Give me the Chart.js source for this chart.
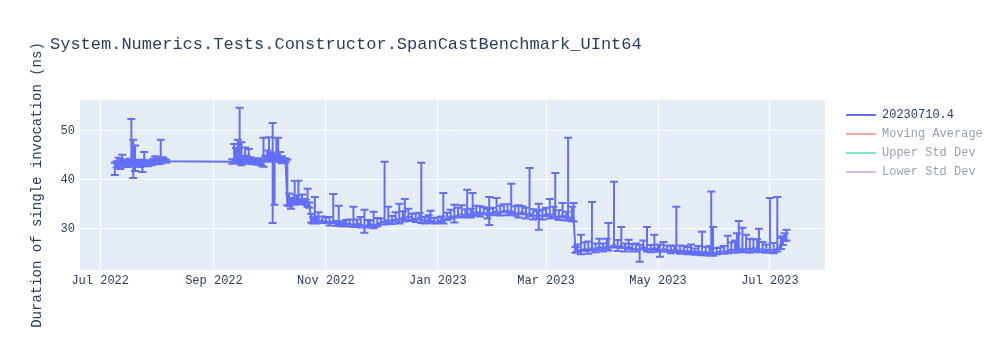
<!DOCTYPE html>
<html>
<head>
<meta charset="utf-8">
<script src="https://cdn.jsdelivr.net/npm/chart.js@4.4.1/dist/chart.umd.min.js"></script>
<style>
  body { margin: 0; background: #fff; }
  #wrap { position: relative; width: 1000px; height: 350px; font-family: 'Courier New', 'Liberation Mono', monospace; color: #2a3f5f; }
  #title { position: absolute; left: 50px; top: 35px; font-size: 17px; line-height: 20px; white-space: nowrap; }
  .item { position: absolute; left: 846px; font-size: 12px; line-height: 16px; white-space: nowrap; }
  .item span { display: inline-block; width: 30px; height: 2px; vertical-align: middle; margin-right: 6px; }
  .off { opacity: 0.5; }
</style>
</head>
<body>
<div id="wrap">
  <canvas id="chart" width="1000" height="350"></canvas>
  <div id="title"></div>
  <div id="legend"></div>
</div>
<script>
const chartTitle = 'System.Numerics.Tests.Constructor.SpanCastBenchmark_UInt64';
const yTitle = 'Duration of single invocation (ns)';

// one line per month, same order in every array
const dates = [
  '2022-07-09','2022-07-10','2022-07-11','2022-07-12','2022-07-13','2022-07-14','2022-07-15','2022-07-16','2022-07-17','2022-07-18','2022-07-19','2022-07-20','2022-07-21','2022-07-22','2022-07-23','2022-07-24','2022-07-25','2022-07-26','2022-07-27','2022-07-28','2022-07-29','2022-07-30','2022-07-31',
  '2022-08-01','2022-08-02','2022-08-03','2022-08-04','2022-08-05','2022-08-06',
  '2022-09-11','2022-09-12','2022-09-13','2022-09-14','2022-09-15','2022-09-16','2022-09-17','2022-09-18','2022-09-19','2022-09-20','2022-09-21','2022-09-22','2022-09-23','2022-09-24','2022-09-25','2022-09-26','2022-09-27','2022-09-28','2022-09-29','2022-09-30',
  '2022-10-01','2022-10-02','2022-10-03','2022-10-04','2022-10-05','2022-10-06','2022-10-07','2022-10-08','2022-10-09','2022-10-10','2022-10-11','2022-10-12','2022-10-13','2022-10-14','2022-10-15','2022-10-16','2022-10-17','2022-10-18','2022-10-19','2022-10-20','2022-10-21','2022-10-22','2022-10-23','2022-10-24','2022-10-25','2022-10-26','2022-10-27','2022-10-28','2022-10-30',
  '2022-11-01','2022-11-03','2022-11-05','2022-11-07','2022-11-08','2022-11-10','2022-11-12','2022-11-14','2022-11-16','2022-11-18','2022-11-20','2022-11-22','2022-11-24','2022-11-25','2022-11-27','2022-11-29',
  '2022-12-01','2022-12-03','2022-12-05','2022-12-07','2022-12-09','2022-12-11','2022-12-13','2022-12-14','2022-12-16','2022-12-18','2022-12-20','2022-12-22','2022-12-23','2022-12-25','2022-12-27','2022-12-28','2022-12-30',
  '2023-01-01','2023-01-03','2023-01-04','2023-01-06','2023-01-08','2023-01-10','2023-01-12','2023-01-14','2023-01-16','2023-01-17','2023-01-19','2023-01-20','2023-01-22','2023-01-24','2023-01-26','2023-01-28','2023-01-29','2023-01-31',
  '2023-02-02','2023-02-04','2023-02-06','2023-02-08','2023-02-10','2023-02-12','2023-02-14','2023-02-16','2023-02-18','2023-02-20','2023-02-22','2023-02-24','2023-02-25','2023-02-27',
  '2023-03-01','2023-03-03','2023-03-05','2023-03-06','2023-03-08','2023-03-10','2023-03-12','2023-03-13','2023-03-15','2023-03-16','2023-03-17','2023-03-18','2023-03-20','2023-03-22','2023-03-24','2023-03-26','2023-03-28','2023-03-30',
  '2023-04-01','2023-04-03','2023-04-04','2023-04-07','2023-04-09','2023-04-11','2023-04-13','2023-04-15','2023-04-17','2023-04-19','2023-04-21','2023-04-23','2023-04-25','2023-04-27','2023-04-29',
  '2023-05-01','2023-05-02','2023-05-04','2023-05-06','2023-05-08','2023-05-10','2023-05-11','2023-05-13','2023-05-15','2023-05-17','2023-05-19','2023-05-21','2023-05-23','2023-05-25','2023-05-27','2023-05-29','2023-05-30','2023-05-31',
  '2023-06-02','2023-06-04','2023-06-06','2023-06-08','2023-06-10','2023-06-12','2023-06-13','2023-06-14','2023-06-16','2023-06-18','2023-06-20','2023-06-22','2023-06-24','2023-06-25','2023-06-27','2023-06-29',
  '2023-07-01','2023-07-03','2023-07-05','2023-07-07','2023-07-08','2023-07-09','2023-07-10'
];
const durations = [
  42.9,43.0,43.2,42.8,43.3,43.1,43.5,43.2,43.4,43.5,43.3,43.0,43.4,43.2,43.6,43.3,43.5,43.4,43.2,43.5,43.3,43.7,43.8,
  43.6,43.9,43.7,44.0,43.9,43.8,
  43.7,44.0,43.8,44.1,44.2,43.9,44.1,44.0,43.8,43.9,44.0,43.7,43.8,43.9,43.8,43.6,43.8,44.0,44.2,44.5,
  44.3,44.6,44.1,44.4,44.6,44.3,44.5,44.2,43.9,44.0,35.4,35.2,34.9,35.5,35.3,35.8,35.6,35.4,35.9,35.5,35.2,35.0,34.8,31.8,31.5,31.9,31.6,31.8,31.5,
  31.6,31.2,31.6,31.0,31.3,30.9,31.2,31.0,30.8,31.1,30.9,30.6,30.8,31.0,30.7,31.0,
  31.3,31.5,31.8,31.6,32.0,31.8,32.4,32.1,32.6,32.2,31.9,32.3,31.8,31.6,31.9,31.7,31.5,
  31.4,31.8,31.6,32.2,32.6,32.4,32.8,33.0,32.7,33.1,32.9,33.2,33.5,33.0,33.4,32.8,33.1,33.3,
  33.6,33.2,33.8,33.4,33.7,33.3,33.0,33.5,32.9,33.2,32.8,32.6,32.9,32.5,
  33.1,32.8,33.0,32.6,32.4,32.8,32.3,32.5,32.1,32.3,25.5,25.8,25.4,26.0,25.6,26.2,25.7,26.4,
  25.9,26.5,26.1,26.8,26.2,26.6,26.0,26.4,26.0,25.8,25.9,26.3,26.0,25.7,26.1,
  25.8,25.6,25.9,25.7,25.5,25.8,25.7,25.4,25.6,25.3,25.5,25.2,25.4,25.1,25.3,25.0,25.2,25.0,
  25.2,25.4,25.3,25.5,25.8,25.6,25.9,26.1,25.7,26.0,25.8,26.1,25.9,25.7,25.9,25.6,
  25.8,25.5,26.0,26.4,27.2,27.9,28.0
];
const errUp = [
  0.6,0.8,1.3,1.4,1.8,0.7,0.6,0.5,0.9,8.9,4.9,4.0,0.7,0.6,0.5,0.8,2.2,0.6,0.5,0.4,0.7,0.6,1.0,
  0.8,0.5,4.5,0.6,0.4,0.3,
  0.5,3.3,2.7,4.1,10.5,3.8,0.8,2.6,1.0,2.4,0.6,0.5,0.4,0.5,0.5,0.4,0.6,4.6,0.7,1.5,
  4.4,1.0,7.5,0.8,4.0,4.3,1.2,0.6,0.5,0.4,8.7,2.0,1.0,0.8,4.5,1.0,4.2,0.7,1.1,0.6,0.8,3.2,0.6,1.3,0.8,4.6,0.9,1.6,1.0,
  0.7,1.2,5.5,0.6,3.4,0.5,0.6,0.9,3.7,0.8,1.5,3.3,1.0,0.7,2.8,1.2,
  0.8,12.2,2.7,1.0,1.4,3.3,1.2,4.0,1.5,0.9,1.3,1.0,11.7,0.8,0.9,2.0,0.7,
  0.9,0.7,5.7,1.1,1.3,2.5,1.5,1.8,1.3,4.9,1.2,4.1,1.2,1.6,1.0,1.3,3.4,1.0,
  2.7,1.5,1.2,1.6,5.5,1.3,1.8,1.1,1.4,9.2,1.2,1.0,2.2,1.4,
  1.2,3.3,1.5,8.8,1.4,2.5,1.2,16.1,2.4,3.0,0.8,1.0,3.4,1.2,1.8,9.3,1.3,1.6,
  1.1,1.5,5.1,12.8,1.5,3.8,1.0,1.4,0.9,1.2,0.8,1.3,4.4,1.0,2.7,
  1.0,1.2,1.4,0.9,1.0,0.8,8.8,1.2,0.9,1.0,1.3,0.8,1.1,4.3,1.0,1.5,12.4,5.4,
  0.9,0.8,1.2,3.1,1.4,2.0,3.2,5.5,4.5,2.8,2.2,1.8,2.0,4.3,1.4,1.2,
  10.5,1.6,10.5,1.8,1.3,1.2,1.8
];
const errDown = [
  1.9,0.5,0.4,0.6,0.5,0.4,0.5,0.6,0.4,0.6,2.9,1.2,0.5,0.4,1.0,1.7,0.5,0.4,0.4,0.5,0.3,0.4,0.5,
  0.4,0.3,0.4,0.5,0.3,0.3,
  0.4,0.6,0.4,0.8,0.5,0.9,0.6,0.4,0.5,0.3,0.4,0.5,0.3,0.4,0.7,0.3,0.9,1.3,0.4,0.5,
  0.6,0.5,12.9,9.5,0.5,0.6,0.4,0.8,0.5,0.4,0.6,0.6,0.8,0.5,0.4,0.6,0.5,0.4,0.5,0.4,0.3,0.5,0.5,0.5,0.4,0.6,0.5,0.4,0.3,
  0.4,0.5,0.4,0.4,0.5,0.4,0.3,0.5,0.4,0.5,0.6,1.4,0.5,0.4,0.6,0.5,
  0.4,0.6,0.5,0.6,0.5,0.7,0.5,0.6,0.8,0.6,0.5,0.4,0.6,0.5,0.4,0.5,0.4,
  0.3,0.4,0.5,0.4,0.5,1.1,0.5,0.6,0.4,0.5,0.6,0.5,0.6,0.5,0.4,0.7,2.3,0.5,
  0.6,0.5,0.4,0.6,0.5,0.6,0.7,0.5,0.8,0.6,0.9,0.5,3.1,0.6,
  0.5,0.7,0.6,0.5,0.6,0.5,0.6,0.7,0.5,0.8,0.4,0.5,0.6,0.5,0.7,0.6,0.5,0.7,
  0.5,0.6,0.5,0.6,0.7,0.5,0.6,0.5,0.6,0.4,2.6,0.5,0.6,0.5,0.4,
  0.5,1.3,0.5,0.4,0.5,0.4,0.5,0.5,0.4,0.5,0.4,0.5,0.4,0.5,0.4,0.5,0.4,0.5,
  0.4,0.5,0.4,0.5,0.6,0.5,0.7,0.6,0.5,0.6,0.7,0.5,0.6,0.5,0.6,0.5,
  0.6,0.5,0.6,0.5,0.5,0.4,0.4
];

const xTickDates = ['2022-07-01','2022-09-01','2022-11-01','2023-01-01','2023-03-01','2023-05-01','2023-07-01'];
const xTickLabels = ['Jul 2022','Sep 2022','Nov 2022','Jan 2023','Mar 2023','May 2023','Jul 2023'];
const yTicks = [30, 40, 50];

const legendNames = ['20230710.4', 'Moving Average', 'Upper Std Dev', 'Lower Std Dev'];
const legendColors = ['#636efa', '#ef553b', '#00cc96', '#ab63fa'];
const legendShown = [true, false, false, false];

const FONT = "'Courier New', 'Liberation Mono', monospace";
const TEXT = '#2a3f5f';

document.getElementById('title').textContent = chartTitle;
const legendBox = document.getElementById('legend');
legendNames.forEach((name, i) => {
    const item = document.createElement('div');
    item.className = 'item' + (legendShown[i] ? '' : ' off');
    item.style.top = (107 + i * 19) + 'px';
    const line = document.createElement('span');
    line.style.background = legendColors[i];
    item.appendChild(line);
    item.appendChild(document.createTextNode(name));
    legendBox.appendChild(item);
});

// plot background like plotly
const plotBg = {
    id: 'plotBg',
    beforeDraw(chart) {
        const { ctx, chartArea: a } = chart;
        ctx.save();
        ctx.fillStyle = '#e5ecf6';
        ctx.fillRect(a.left, a.top, a.right - a.left, a.bottom - a.top);
        ctx.restore();
    }
};

// vertical error bars with caps
const errorBars = {
    id: 'errorBars',
    afterDatasetsDraw(chart) {
        const { ctx, scales: { x, y } } = chart;
        ctx.save();
        ctx.strokeStyle = '#636efa';
        ctx.lineWidth = 2;
        ctx.beginPath();
        dates.forEach((d, i) => {
            const px = x.getPixelForValue(Date.parse(d));
            const top = y.getPixelForValue(durations[i] + errUp[i]);
            const bot = y.getPixelForValue(durations[i] - errDown[i]);
            ctx.moveTo(px, top); ctx.lineTo(px, bot);
            ctx.moveTo(px - 4, top); ctx.lineTo(px + 4, top);
            ctx.moveTo(px - 4, bot); ctx.lineTo(px + 4, bot);
        });
        ctx.stroke();
        ctx.restore();
    }
};

new Chart(document.getElementById('chart'), {
    type: 'line',
    data: {
        datasets: [{
            label: legendNames[0],
            data: dates.map((d, i) => ({ x: Date.parse(d), y: durations[i] })),
            borderColor: '#636efa',
            borderWidth: 2,
            pointRadius: 0,
            tension: 0,
        }],
    },
    options: {
        responsive: false,
        devicePixelRatio: 1,
        animation: false,
        layout: { padding: { left: 0, right: 175, top: 100, bottom: 0 } },
        plugins: { legend: { display: false }, tooltip: { enabled: false } },
        scales: {
            x: {
                type: 'linear',
                min: Date.parse('2022-06-20'),
                max: Date.parse('2023-07-31'),
                afterBuildTicks: (s) => { s.ticks = xTickDates.map((d) => ({ value: Date.parse(d) })); },
                afterFit: (s) => { s.height = 80; },
                ticks: {
                    autoSkip: false, maxRotation: 0, padding: 4,
                    color: TEXT, font: { family: FONT, size: 12 },
                    callback: (v, i) => xTickLabels[i],
                },
                grid: { color: '#ffffff', lineWidth: 1, drawTicks: false },
                border: { display: false },
            },
            y: {
                min: 21.6,
                max: 56.3,
                afterBuildTicks: (s) => { s.ticks = yTicks.map((v) => ({ value: v })); },
                afterFit: (s) => { s.width = 80; },
                ticks: { padding: 5, color: TEXT, font: { family: FONT, size: 12 } },
                grid: { color: '#ffffff', lineWidth: 1, drawTicks: false },
                border: { display: false },
                title: {
                    display: true, text: yTitle, color: TEXT,
                    font: { family: FONT, size: 14 }, padding: { top: 29, bottom: 0 },
                },
            },
        },
    },
    plugins: [plotBg, errorBars],
});
</script>
</body>
</html>
